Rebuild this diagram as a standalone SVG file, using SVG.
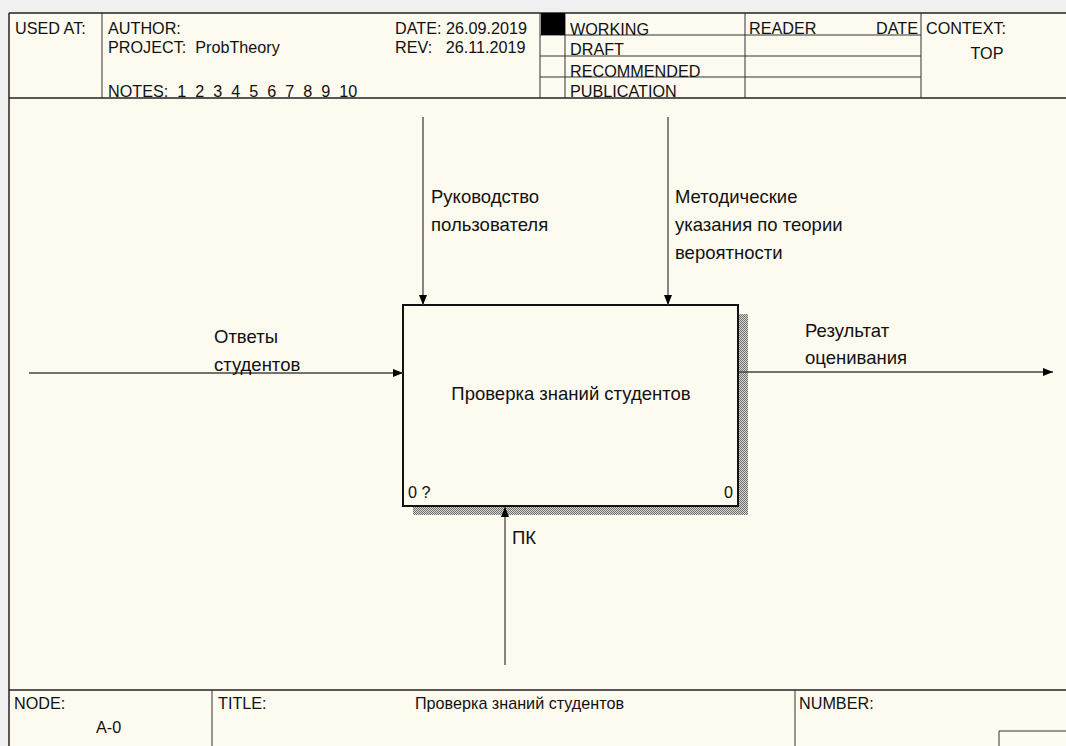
<svg xmlns="http://www.w3.org/2000/svg" width="1066" height="746" viewBox="0 0 1066 746">
<style>
text{font-family:"Liberation Sans",Arial,sans-serif;fill:#111;white-space:pre}
.h{font-size:16.2px}
.l{font-size:18.5px}
.fr{stroke:#222;stroke-width:1.5;fill:none}
.thin{stroke:#333;stroke-width:1;fill:none}
.arr{stroke:#444;stroke-width:1.3;fill:none}
</style>
<defs>
<pattern id="hatch" width="2" height="2" patternUnits="userSpaceOnUse">
<rect width="2" height="2" fill="#d8d8d0"/>
<rect width="1" height="1" fill="#707070"/>
<rect x="1" y="1" width="1" height="1" fill="#707070"/>
</pattern>
<marker id="ah" viewBox="0 0 10 8" refX="10" refY="4" markerWidth="10" markerHeight="8" markerUnits="userSpaceOnUse" orient="auto">
<path d="M0,0 L10,4 L0,8 Z" fill="#000"/>
</marker>
</defs>
<rect width="1066" height="746" fill="#fdfaef"/>
<rect width="1066" height="13" fill="#f0f0f0"/>
<rect width="8" height="746" fill="#f0f0f0"/>
<g id="header">
<line class="fr" x1="9" y1="13" x2="1066" y2="13"/>
<line class="fr" x1="9" y1="13" x2="9" y2="746"/>
<line class="fr" x1="9" y1="98" x2="1066" y2="98"/>
<line class="thin" x1="102" y1="13" x2="102" y2="98"/>
<line class="thin" x1="540" y1="13" x2="540" y2="98"/>
<line class="thin" x1="565" y1="13" x2="565" y2="98"/>
<line class="thin" x1="745" y1="13" x2="745" y2="98"/>
<line class="thin" x1="921" y1="13" x2="921" y2="98"/>
<line class="thin" x1="540" y1="35" x2="921" y2="35"/>
<line class="thin" x1="540" y1="56" x2="921" y2="56"/>
<line class="thin" x1="540" y1="77" x2="921" y2="77"/>
<rect x="541" y="13" width="24" height="22" fill="#000"/>
<text class="h" x="15" y="34">USED AT:</text>
<text class="h" x="108" y="34">AUTHOR:</text>
<text class="h" x="108" y="53">PROJECT:  ProbTheory</text>
<text class="h" x="108" y="97">NOTES:  1  2  3  4  5  6  7  8  9  10</text>
<text class="h" x="395" y="34">DATE: 26.09.2019</text>
<text class="h" x="395" y="53">REV:   26.11.2019</text>
<text class="h" x="570" y="35">WORKING</text>
<text class="h" x="570" y="55">DRAFT</text>
<text class="h" x="570" y="77">RECOMMENDED</text>
<text class="h" x="570" y="97">PUBLICATION</text>
<text class="h" x="749" y="34">READER</text>
<text class="h" x="918" y="34" text-anchor="end">DATE</text>
<text class="h" x="926" y="34">CONTEXT:</text>
<text class="h" x="987" y="59" text-anchor="middle">TOP</text>
</g>
<g id="footer">
<line class="fr" x1="9" y1="690" x2="1066" y2="690"/>
<line class="thin" x1="212" y1="690" x2="212" y2="746"/>
<line class="thin" x1="795" y1="690" x2="795" y2="746"/>
<path class="thin" d="M999,746 V731 H1066"/>
<text class="h" x="14" y="709">NODE:</text>
<text class="h" x="96" y="733">A-0</text>
<text class="h" x="218" y="709">TITLE:</text>
<text class="h" x="415" y="709" textLength="209" lengthAdjust="spacingAndGlyphs">Проверка знаний студентов</text>
<text class="h" x="799" y="709">NUMBER:</text>
</g>
<g id="node-A0">
<rect x="739" y="314" width="9" height="201" fill="url(#hatch)"/>
<rect x="413" y="507" width="335" height="8" fill="url(#hatch)"/>
<rect x="403" y="305" width="335" height="201" fill="#fdfaef" stroke="#111" stroke-width="2"/>
<text class="l" x="571" y="400" text-anchor="middle">Проверка знаний студентов</text>
<text class="h" x="408" y="498">0 ?</text>
<text class="h" x="733" y="498" text-anchor="end">0</text>
</g>
<g id="connectors">
<line class="arr" x1="423" y1="117" x2="423" y2="305" marker-end="url(#ah)" stroke="#222"/>
<line class="arr" x1="668" y1="117" x2="668" y2="305" marker-end="url(#ah)" stroke="#777"/>
<line class="arr" x1="29" y1="373" x2="403" y2="373" marker-end="url(#ah)"/>
<line class="arr" x1="739" y1="372" x2="1053" y2="372" marker-end="url(#ah)"/>
<line class="arr" x1="505" y1="665" x2="505" y2="507" marker-end="url(#ah)" stroke="#555"/>
<text class="l" x="431" y="203">Руководство</text>
<text class="l" x="431" y="231">пользователя</text>
<text class="l" x="675" y="203">Методические</text>
<text class="l" x="675" y="231">указания по теории</text>
<text class="l" x="675" y="259">вероятности</text>
<text class="l" x="214" y="343">Ответы</text>
<text class="l" x="214" y="371">студентов</text>
<text class="l" x="805" y="337">Результат</text>
<text class="l" x="805" y="364">оценивания</text>
<text class="l" x="512" y="544">ПК</text>
</g>
</svg>
